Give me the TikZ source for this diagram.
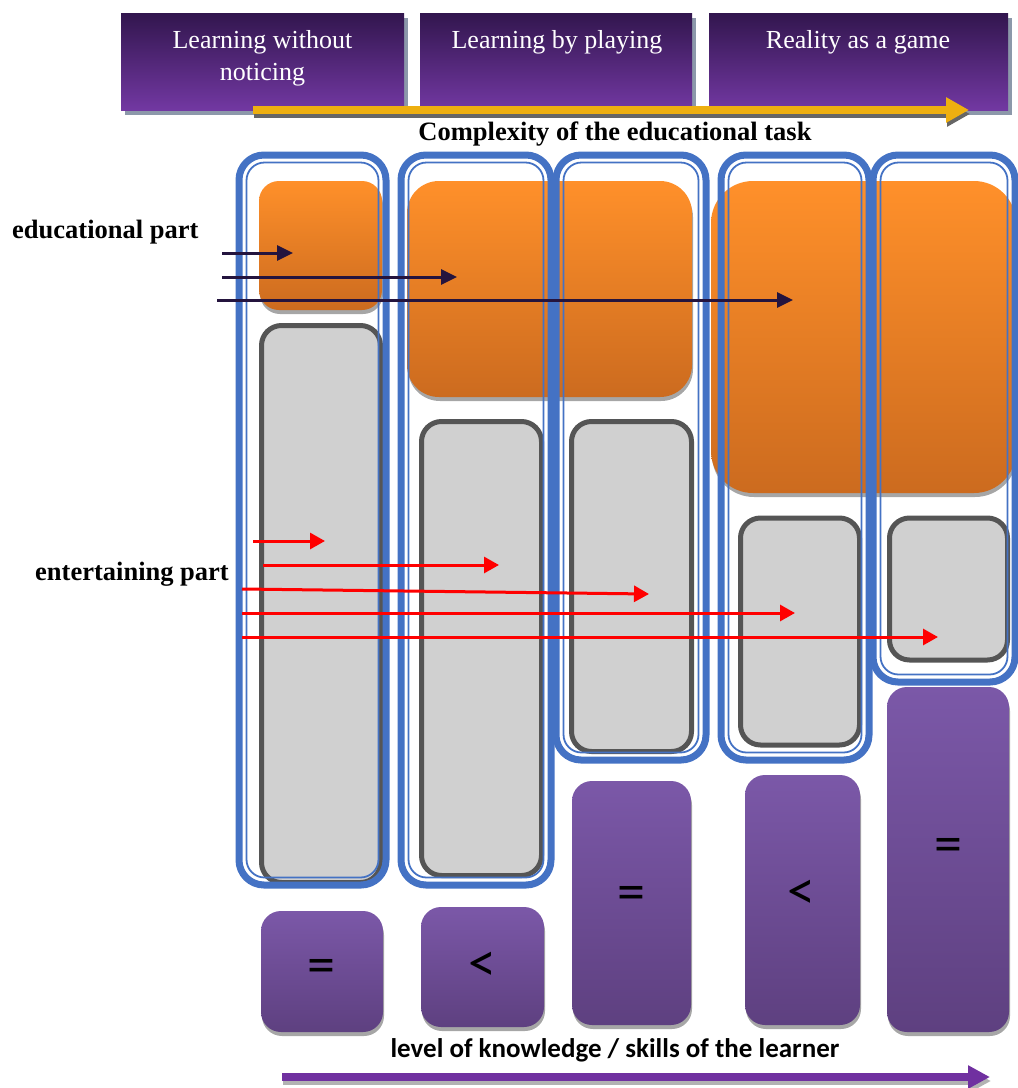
\documentclass[tikz,border=0pt]{standalone}
\usepackage{fontspec}
\setmainfont{Liberation Serif}
\newfontfamily\calibrifont{Carlito}
\usetikzlibrary{arrows.meta,shadows}
\definecolor{cblue}{HTML}{4472C4}
\definecolor{hdrtop}{RGB}{50,22,78}
\definecolor{hdrbot}{RGB}{114,56,162}
\definecolor{hdrshadow}{RGB}{140,152,170}
\definecolor{orgtop}{RGB}{255,144,42}
\definecolor{orgbot}{RGB}{204,107,31}
\definecolor{grayfill}{RGB}{208,208,208}
\definecolor{grayline}{RGB}{85,85,85}
\definecolor{ptop}{RGB}{123,88,168}
\definecolor{pbot}{RGB}{94,64,128}
\definecolor{goldc}{RGB}{238,175,16}
\definecolor{purparrow}{RGB}{112,48,160}
\definecolor{edark}{RGB}{36,20,62}
\tikzset{
  hdrbox/.style={rectangle, inner sep=0pt, outer sep=0pt, top color=hdrtop, bottom color=hdrbot,
    drop shadow={shadow xshift=4pt, shadow yshift=-5pt, fill=hdrshadow, opacity=1}},
  hdrtext/.style={text=white, font=\fontsize{26}{32}\selectfont, align=center, inner sep=0pt},
  lbl/.style={font=\bfseries\fontsize{26.5}{30}\selectfont, inner sep=0pt},
  orgbox/.style={rectangle, inner sep=0pt, outer sep=0pt, top color=orgtop, bottom color=orgbot,
    drop shadow={shadow xshift=1pt, shadow yshift=-4pt, fill=gray!70, opacity=1}},
  graybox/.style={rectangle, inner sep=0pt, outer sep=0pt, draw=grayline, line width=5pt, fill=grayfill, rounded corners=20pt},
  contout/.style={rectangle, inner sep=0pt, outer sep=0pt, draw=cblue, line width=7pt, rounded corners=25pt},
  contin/.style={rectangle, inner sep=0pt, outer sep=0pt, draw=cblue, line width=1.8pt, rounded corners=18pt},
  purpbox/.style={rectangle, inner sep=0pt, outer sep=0pt, top color=ptop, bottom color=pbot, rounded corners=20pt,
    drop shadow={shadow xshift=1pt, shadow yshift=-4pt, fill=gray!70, opacity=1}},
  symb/.style={font=\calibrifont\fontsize{56}{56}\selectfont, inner sep=0pt},
  earrow/.style={draw=edark, line width=3pt, -{Triangle[length=16pt,width=15pt]}},
  rarrow/.style={draw=red, line width=3pt, -{Triangle[length=15pt,width=16pt]}},
}
\begin{document}
\begin{tikzpicture}[x=1pt,y=-1pt]
\useasboundingbox (0,0) rectangle (1018,1088);
% header boxes
\node[hdrbox, minimum width=283pt, minimum height=97pt] (h1) at (262.5,61.5) {};
\node[hdrbox, minimum width=272pt, minimum height=97pt] (h2) at (556,61.5) {};
\node[hdrbox, minimum width=299pt, minimum height=97pt] (h3) at (858.5,61.5) {};
\node[hdrtext, anchor=north] (h1t) at (262.5,30) {Learning without\\noticing};
\node[hdrtext, anchor=north] (h2t) at (557,30) {Learning by playing};
\node[hdrtext, anchor=north] (h3t) at (858,30) {Reality as a game};
% gold arrow
\coordinate (gs) at (253,110);
\coordinate (ge) at (969,110);
\draw[gray!80!black, line width=8pt, -{Triangle[length=23pt,width=24pt]}, transform canvas={xshift=1pt,yshift=-4pt}] (gs) -- (ge);
\draw[goldc, line width=8pt, -{Triangle[length=23pt,width=24pt]}] (gs) -- (ge);
\node[lbl] (cx) at (615,134) {Complexity of the educational task};
\node[lbl, anchor=west] (edu) at (12,232) {educational part};
\node[lbl, anchor=east] (ent) at (229,574) {entertaining part};
% orange boxes
\node[orgbox, rounded corners=20pt, minimum width=123pt, minimum height=129pt] (o1) at (320.5,245.5) {};
\node[orgbox, rounded corners=32pt, minimum width=285pt, minimum height=216pt] (o2) at (549.5,289) {};
\node[orgbox, rounded corners=42pt, minimum width=305pt, minimum height=312pt] (o3) at (863.5,337) {};
% gray boxes
\node[graybox, minimum width=119pt, minimum height=557pt] (g1) at (321,604) {};
\node[graybox, minimum width=120pt, minimum height=454pt] (g2) at (481.5,648.5) {};
\node[graybox, minimum width=120pt, minimum height=330pt] (g3) at (631.5,586.5) {};
\node[graybox, minimum width=119pt, minimum height=227pt] (g4) at (800,631.5) {};
\node[graybox, minimum width=118pt, minimum height=142pt] (g5) at (948.5,589) {};
% containers
\node[contout, minimum width=147pt, minimum height=730pt] (c1) at (312.5,520) {};
\node[contin, minimum width=132pt, minimum height=715pt] (c1i) at (312.5,520) {};
\node[contout, minimum width=150pt, minimum height=730pt] (c2) at (476,520) {};
\node[contin, minimum width=135pt, minimum height=715pt] (c2i) at (476,520) {};
\node[contout, minimum width=150pt, minimum height=605pt] (c3) at (631,457.5) {};
\node[contin, minimum width=135pt, minimum height=590pt] (c3i) at (631,457.5) {};
\node[contout, minimum width=148pt, minimum height=605pt] (c4) at (795,457.5) {};
\node[contin, minimum width=133pt, minimum height=590pt] (c4i) at (795,457.5) {};
\node[contout, minimum width=142pt, minimum height=527pt] (c5) at (944,418.5) {};
\node[contin, minimum width=127pt, minimum height=512pt] (c5i) at (944,418.5) {};
% purple boxes
\node[purpbox, minimum width=122pt, minimum height=121pt] (p1) at (322,971.5) {};
\node[purpbox, minimum width=123pt, minimum height=120pt] (p2) at (482.5,967) {};
\node[purpbox, minimum width=119pt, minimum height=244pt] (p3) at (631.5,903) {};
\node[purpbox, minimum width=115pt, minimum height=250pt] (p4) at (802.5,900) {};
\node[purpbox, minimum width=122pt, minimum height=345pt] (p5) at (948,859.5) {};
\node[symb] (s1) at (321,971) {=};
\node[symb] (s2) at (482,967) {<};
\node[symb] (s3) at (631,898) {=};
\node[symb] (s4) at (801,895) {<};
\node[symb] (s5) at (948,850) {=};
% bottom label and arrow
\node[font=\calibrifont\bfseries\fontsize{27}{30}\selectfont, inner sep=0pt] (lvl) at (615,1050) {level of knowledge / skills of the learner};
\coordinate (bs) at (282,1077);
\coordinate (be) at (990,1077);
\draw[gray!60, line width=8pt, -{Triangle[length=22pt,width=22pt]}, transform canvas={xshift=1pt,yshift=-4pt}] (bs) -- (be);
\draw[purparrow, line width=8pt, -{Triangle[length=22pt,width=22pt]}] (bs) -- (be);
% educational arrows
\coordinate (e1s) at (222,253); \coordinate (e1e) at (293,253);
\coordinate (e2s) at (222,277); \coordinate (e2e) at (457,277);
\coordinate (e3s) at (217,300); \coordinate (e3e) at (793,300);
\draw[earrow] (e1s) -- (e1e);
\draw[earrow] (e2s) -- (e2e);
\draw[earrow] (e3s) -- (e3e);
% entertaining arrows
\coordinate (r1s) at (253,541); \coordinate (r1e) at (325,541);
\coordinate (r2s) at (263,565); \coordinate (r2e) at (499,565);
\coordinate (r3s) at (242,589); \coordinate (r3e) at (649,594);
\coordinate (r4s) at (242,613); \coordinate (r4e) at (795,613);
\coordinate (r5s) at (242,637); \coordinate (r5e) at (938,637);
\draw[rarrow] (r1s) -- (r1e);
\draw[rarrow] (r2s) -- (r2e);
\draw[rarrow] (r3s) -- (r3e);
\draw[rarrow] (r4s) -- (r4e);
\draw[rarrow] (r5s) -- (r5e);
\end{tikzpicture}
\end{document}
